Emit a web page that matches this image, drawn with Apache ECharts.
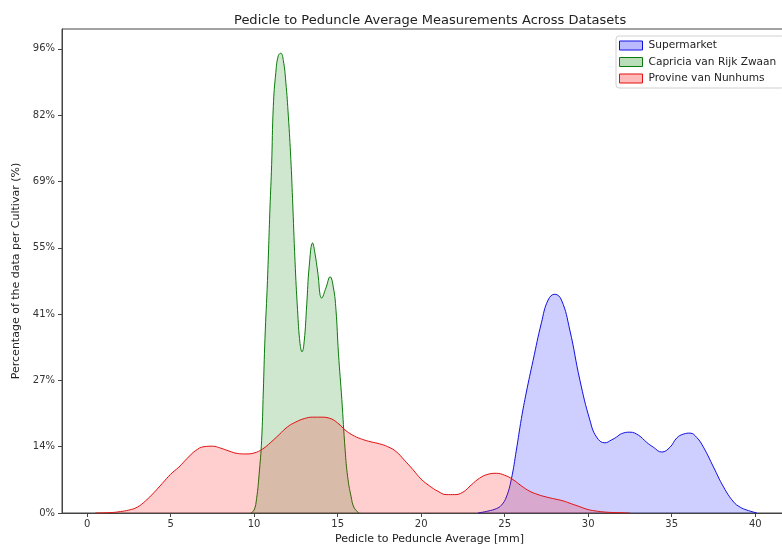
<!DOCTYPE html>
<html>
<head>
<meta charset="utf-8">
<script src="https://cdn.jsdelivr.net/npm/echarts@6/dist/echarts.min.js"></script>
<style>
  html, body { margin: 0; padding: 0; background: #fff; overflow: hidden; }
  #chart { width: 782px; height: 546px; }
</style>
</head>
<body>
<div id="chart"></div>
<script>
// Density curves (x in mm, y in % of cultivar data)
const supermarket = [
  [23.4,0],[24.0,0.4],[24.5,0.9],[24.8,1.6],[25.1,3.3],[25.4,7.0],[25.7,13],[26.0,19.5],
  [26.3,25],[26.7,31.5],[27.2,39.3],[27.6,44],[28.0,45.2],[28.4,44],[28.9,37.8],[29.5,27.5],
  [30.1,19.2],[30.5,15.7],[31.0,14.5],[31.4,15.1],[31.7,15.7],[32.0,16.4],[32.5,16.7],
  [33.0,16.1],[33.5,14.6],[33.9,13.6],[34.4,12.6],[34.9,13.6],[35.3,15.5],[35.7,16.3],
  [36.1,16.5],[36.5,15.6],[36.9,13.6],[37.5,9.5],[38.1,5.4],[38.7,2.3],[39.1,1.2],
  [39.5,0.6],[40.1,0]
];
const capricia = [
  [9.8,0],[10.0,0.6],[10.15,3],[10.3,8],[10.45,15],[10.55,25],[10.65,36],[10.8,48],
  [10.95,63],[11.05,72],[11.15,84],[11.3,91],[11.45,94.5],[11.6,95],[11.75,93.5],[11.9,89],
  [12.05,82],[12.2,73],[12.3,65],[12.45,52],[12.6,42],[12.75,35],[12.87,33.3],[13.0,35.5],
  [13.15,43],[13.3,51],[13.5,55.8],[13.65,53.5],[13.8,50],[14.05,44.4],[14.3,46.5],
  [14.55,48.8],[14.75,46.5],[14.9,42],[15.05,33],[15.25,23.5],[15.45,13],[15.6,7.5],
  [15.8,3.5],[16.0,1.0],[16.3,0]
];
const provine = [
  [0.5,0],[1.5,0.1],[2.0,0.3],[2.5,0.6],[3.0,1.2],[3.5,2.5],[4.0,4.2],[4.5,6.1],[5.0,8.0],
  [5.5,9.5],[6.0,11.3],[6.5,12.9],[7.0,13.7],[7.5,13.8],[8.0,13.4],[8.5,12.8],[9.0,12.3],
  [9.5,12.2],[10.0,12.4],[10.5,13.2],[11.0,14.6],[11.5,16.2],[12.0,17.8],[12.5,18.8],
  [13.0,19.5],[13.5,19.8],[14.0,19.8],[14.5,19.6],[15.0,18.6],[15.5,17.0],[16.0,15.9],
  [16.5,15.2],[17.0,14.7],[17.5,14.3],[18.0,13.7],[18.5,12.7],[19.0,10.9],[19.5,9.0],
  [20.0,7.0],[20.5,5.6],[21.0,4.5],[21.5,3.8],[22.0,3.8],[22.5,4.3],[23.0,5.8],[23.5,7.2],
  [24.0,8.0],[24.5,8.2],[25.0,7.8],[25.5,6.9],[26.0,5.6],[26.5,4.5],[27.0,3.8],[27.5,3.3],
  [28.0,2.9],[28.5,2.5],[29.0,1.9],[29.5,1.3],[30.0,0.7],[30.5,0.4],[31.0,0.2],[31.5,0.1],
  [32.5,0]
];

const seriesNames = ['Supermarket', 'Capricia van Rijk Zwaan', 'Provine van Nunhums'];
const xTicks = [0, 5, 10, 15, 20, 25, 30, 35, 40];
const yTicks = [0, 13.7, 27.4, 41.1, 54.8, 68.5, 82.2, 95.9];
const yTickLabels = ['0%', '14%', '27%', '41%', '55%', '69%', '82%', '96%'];

const lineColors = ['#1010e0', '#0a7a0a', '#e01010'];
const fillColors = ['rgba(0,0,255,0.27)', 'rgba(0,128,0,0.27)', 'rgba(255,0,0,0.27)'];
const curves = [supermarket, capricia, provine];

const font = 'DejaVu Sans';
const chart = echarts.init(document.getElementById('chart'), null, { renderer: 'canvas' });

chart.setOption({
  backgroundColor: '#fff',
  animation: false,
  title: {
    text: 'Pedicle to Peduncle Average Measurements Across Datasets',
    left: 229, top: 9,
    textStyle: { fontFamily: font, fontSize: 13, fontWeight: 'normal', color: '#222' }
  },
  legend: {
    left: 616, top: 36,
    orient: 'vertical',
    itemWidth: 23, itemHeight: 9, itemGap: 5.5,
    padding: [4, 8, 4, 3],
    backgroundColor: '#fff',
    borderColor: '#d0d0d0', borderWidth: 1, borderRadius: 3,
    textStyle: { fontFamily: font, fontSize: 10.6, color: '#222', padding: [0, 0, 0, 1] },
    data: seriesNames.map((n, i) => ({
      name: n, icon: 'rect',
      itemStyle: { color: fillColors[i], borderColor: lineColors[i], borderWidth: 1 }
    }))
  },
  grid: {
    left: 62, top: 29, width: 735, height: 484,
    outerBoundsMode: 'none',
    show: true, borderColor: '#444', borderWidth: 1, backgroundColor: 'transparent'
  },
  xAxis: {
    type: 'value', min: -1.5, max: 42.5,
    name: 'Pedicle to Peduncle Average [mm]',
    nameLocation: 'middle', nameGap: 20,
    nameTextStyle: { fontFamily: font, fontSize: 11, color: '#222' },
    axisLine: { show: true, onZero: false, lineStyle: { color: '#444' } },
    axisTick: { show: true, length: 4, customValues: xTicks, lineStyle: { color: '#444' } },
    axisLabel: { customValues: xTicks, fontFamily: font, fontSize: 10, color: '#333', margin: 6 },
    splitLine: { show: false }
  },
  yAxis: {
    type: 'value', min: 0, max: 100,
    name: 'Percentage of the data per Cultivar (%)',
    nameLocation: 'middle', nameGap: 38, nameRotate: 90,
    nameTextStyle: { fontFamily: font, fontSize: 11, color: '#222' },
    axisLine: { show: true, onZero: false, lineStyle: { color: '#444' } },
    axisTick: { show: true, length: 4, customValues: yTicks, lineStyle: { color: '#444' } },
    axisLabel: {
      customValues: yTicks, fontFamily: font, fontSize: 10, color: '#333', margin: 7,
      formatter: v => {
        const i = yTicks.findIndex(t => Math.abs(t - v) < 1e-6);
        return i >= 0 ? yTickLabels[i] : '';
      }
    },
    splitLine: { show: false }
  },
  series: curves.map((d, i) => ({
    name: seriesNames[i],
    type: 'line',
    data: d,
    smooth: 0.45,
    showSymbol: false,
    lineStyle: { color: lineColors[i], width: 1 },
    itemStyle: { color: fillColors[i], borderColor: lineColors[i] },
    areaStyle: { color: fillColors[i], origin: 'start' },
    z: 2 + i
  }))
});
</script>
</body>
</html>
